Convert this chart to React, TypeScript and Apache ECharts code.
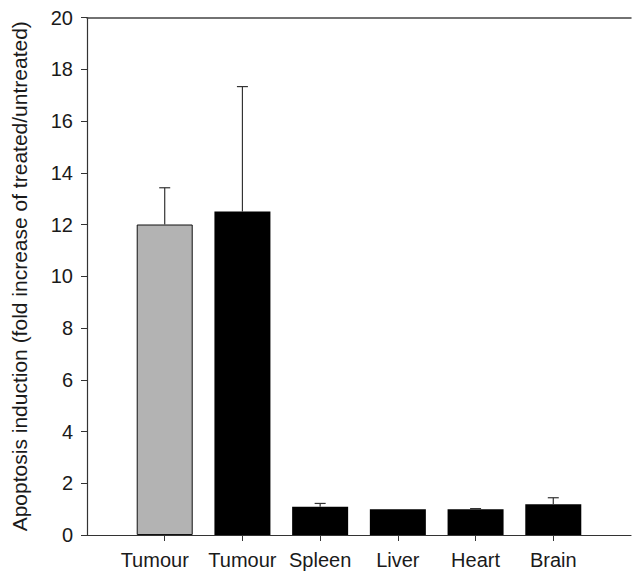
import React, { useEffect, useRef } from "react";
import * as echarts from "echarts";

const categories = ["", "Tumour", "Tumour", "Spleen", "Liver", "Heart", "Brain", ""];
const means = [12.0, 12.5, 1.09, 1.0, 1.0, 1.19];
const upperErrors = [13.42, 17.33, 1.22, 1.0, 1.02, 1.44];
const barColors = ["#b3b3b3", "#000000", "#000000", "#000000", "#000000", "#000000"];
const yTicks = [0, 2, 4, 6, 8, 10, 12, 14, 16, 18, 20];

export default function App() {
  const ref = useRef<HTMLDivElement>(null);
  useEffect(() => {
    if (!ref.current) return;
    const chart = echarts.init(ref.current, null, { renderer: "svg" });
    const font = "Liberation Sans, Arial, sans-serif";
    const barData: any[] = ["-"];
    means.forEach((v, i) =>
      barData.push({
        value: v,
        itemStyle: { color: barColors[i], borderColor: "#111", borderWidth: i === 0 ? 1 : 0 },
      })
    );
    barData.push("-");
    const errData = means.map((v, i) => [i + 1, v, upperErrors[i]]);
    chart.setOption({
      animation: false,
      grid: { left: 87, top: 17.5, width: 549.5, bottom: 37, containLabel: false },
      xAxis: [
        {
          type: "category",
          data: categories,
          boundaryGap: false,
          axisLine: { lineStyle: { color: "#333", width: 1.2 } },
          axisTick: {
            length: 6,
            interval: (i: number) => i > 0 && i < 7,
            lineStyle: { color: "#333" },
          },
          axisLabel: {
            interval: 0,
            margin: 15,
            fontSize: 20,
            color: "#1a1a1a",
            fontFamily: font,
            formatter: (v: string, i: number) => (i === 1 ? "{s|" + v + "}" : v),
            rich: {
              s: { fontSize: 20, color: "#1a1a1a", fontFamily: font, padding: [0, 20, 0, 0] },
            },
          },
          splitLine: { show: false },
        },
        {
          type: "category",
          position: "top",
          data: categories,
          boundaryGap: false,
          axisLine: { lineStyle: { color: "#444", width: 1.5 } },
          axisTick: { show: false },
          axisLabel: { show: false },
        },
      ],
      yAxis: {
        type: "value",
        min: 0,
        max: 20,
        interval: 2,
        name: "Apoptosis induction (fold increase of treated/untreated)",
        nameLocation: "middle",
        nameGap: 57,
        nameTextStyle: { fontSize: 21, color: "#1a1a1a", fontFamily: font },
        axisLine: { show: true, lineStyle: { color: "#333", width: 1.2 } },
        axisTick: { show: true, length: 6, lineStyle: { color: "#333" } },
        axisLabel: {
          margin: 14,
          fontSize: 20,
          color: "#1a1a1a",
          fontFamily: font,
          formatter: (v: number) => (yTicks.includes(v) ? String(v) : ""),
        },
        splitLine: { show: false },
      },
      series: [
        {
          type: "bar",
          data: barData,
          barWidth: 56,
          xAxisIndex: 0,
        },
        {
          type: "custom",
          xAxisIndex: 0,
          data: errData,
          z: 5,
          renderItem: (params: any, api: any) => {
            const x = api.value(0);
            const v = api.value(1);
            const e = api.value(2);
            if (e <= v) return { type: "group", children: [] };
            const p0 = api.coord([x, v]);
            const p1 = api.coord([x, e]);
            const half = 5.5;
            const style = { stroke: "#333", lineWidth: 1.2 };
            return {
              type: "group",
              children: [
                { type: "line", shape: { x1: p0[0], y1: p0[1], x2: p1[0], y2: p1[1] }, style },
                { type: "line", shape: { x1: p1[0] - half, y1: p1[1], x2: p1[0] + half, y2: p1[1] }, style },
              ],
            };
          },
        },
      ],
    });
    return () => chart.dispose();
  }, []);
  return (
    <div
      ref={ref}
      style={{ position: "fixed", left: 0, top: 0, width: 634, height: 572, background: "#fff" }}
    />
  );
}
